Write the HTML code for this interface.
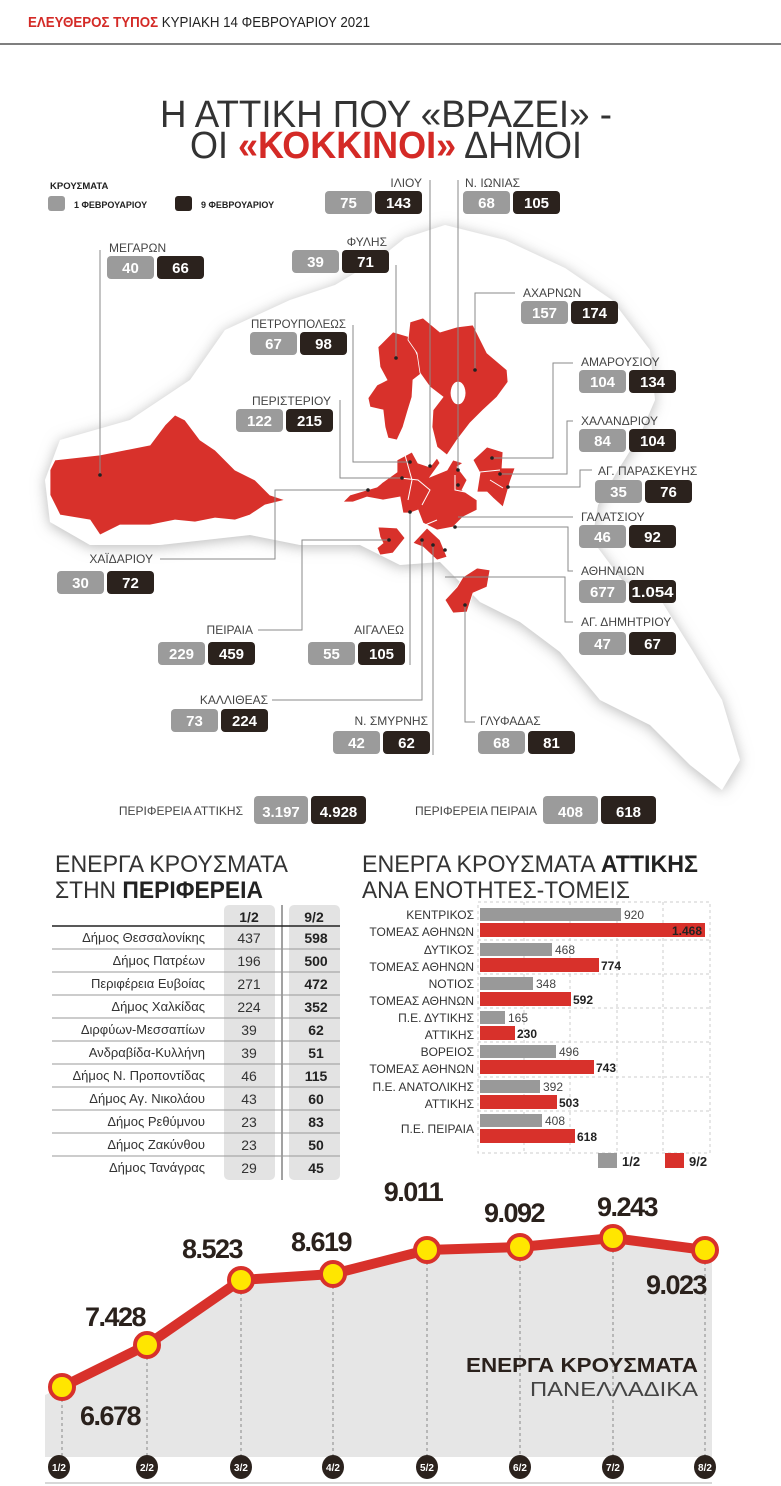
<!DOCTYPE html>
<html><head><meta charset="utf-8"><style>
html,body{margin:0;padding:0;background:#fff;}
svg{display:block;}
text{font-family:"Liberation Sans","DejaVu Sans",sans-serif;}
.lb{font-size:12px;fill:#444;}
.bx{font-size:15px;font-weight:bold;fill:#fff;text-anchor:middle;}
.ttl{font-weight:normal;fill:#333;}
.ln{stroke:#8a8a8a;stroke-width:1;fill:none;}
.tn{font-size:13px;fill:#333;text-anchor:end;}
.tv{font-size:14px;fill:#333;text-anchor:middle;}
.tb{font-size:14px;fill:#222;text-anchor:middle;font-weight:bold;}
.bl{font-size:12px;fill:#333;text-anchor:end;}
.bv{font-size:12px;fill:#444;}
.bvb{font-size:12px;fill:#222;font-weight:bold;}
.big{font-size:27px;font-weight:bold;fill:#2a211c;text-anchor:middle;letter-spacing:-1.5px;}
.dl{font-size:10px;font-weight:bold;fill:#fff;text-anchor:middle;}
</style></head><body>
<svg width="781" height="1486" viewBox="0 0 781 1486" xmlns="http://www.w3.org/2000/svg">
<defs>
<filter id="sh" x="-10%" y="-10%" width="120%" height="120%"><feDropShadow dx="0" dy="2" stdDeviation="7" flood-color="#9a9a9a" flood-opacity="0.7"/></filter>
</defs>
<!-- header -->
<text x="28" y="27" font-size="15" textLength="342" lengthAdjust="spacingAndGlyphs" font-weight="bold" fill="#d42a26">ΕΛΕΥΘΕΡΟΣ ΤΥΠΟΣ <tspan fill="#222" font-weight="normal">ΚΥΡΙΑΚΗ 14 ΦΕΒΡΟΥΑΡΙΟΥ 2021</tspan></text>
<line x1="0" y1="44" x2="781" y2="44" stroke="#555" stroke-width="1.5"/>
<!-- title -->
<text class="ttl" x="160" y="127" font-size="38" textLength="452" lengthAdjust="spacingAndGlyphs">Η ΑΤΤΙΚΗ ΠΟΥ «ΒΡΑΖΕΙ» -</text>
<text class="ttl" x="190" y="158" font-size="38" textLength="392" lengthAdjust="spacingAndGlyphs">ΟΙ <tspan fill="#d42a26" font-weight="bold">«ΚΟΚΚΙΝΟΙ»</tspan> ΔΗΜΟΙ</text>
<!-- legend -->
<text x="50" y="189" font-size="9.5" font-weight="bold" fill="#222">ΚΡΟΥΣΜΑΤΑ</text>
<rect x="48" y="196" width="17" height="15" rx="3" fill="#9b9b9b"/>
<text x="74" y="208" font-size="9" font-weight="bold" fill="#222">1 ΦΕΒΡΟΥΑΡΙΟΥ</text>
<rect x="175" y="196" width="17" height="15" rx="3" fill="#2b221d"/>
<text x="201" y="208" font-size="9" font-weight="bold" fill="#222">9 ΦΕΒΡΟΥΑΡΙΟΥ</text>
<!-- land -->
<path filter="url(#sh)" fill="#fff" d="M45,480 L60,440 L130,420 L190,380 L225,330 L290,300 L335,285 L380,258 L405,238 L445,225 L505,240 L565,268 L612,300 L650,350 L655,400 L640,435 L618,470 L598,505 L592,540 L622,580 L662,602 L692,650 L722,700 L740,760 L722,790 L690,765 L650,725 L600,700 L560,652 L520,622 L480,602 L440,562 L400,565 L360,545 L300,545 L250,535 L160,545 L90,545 L50,522 Z"/>
<!-- red shapes -->
<g fill="#d8312b" stroke="#fff" stroke-width="0.8">
<path d="M55,460 L100,455 L150,445 L165,425 L175,415 L185,420 L200,440 L215,450 L235,470 L255,480 L270,495 L285,500 L265,505 L250,515 L235,520 L215,518 L195,522 L175,520 L150,525 L120,525 L100,535 L90,520 L60,515 L50,495 L50,470 Z"/>
<path d="M393,332 L410,337 L418,357 L422,373 L413,380 L412,397 L408,410 L403,427 L397,440 L388,438 L385,427 L383,410 L370,407 L368,398 L377,385 L387,380 L380,367 L378,347 Z"/>
<path fill-rule="evenodd" d="M410,322 L423,318 L440,332 L457,327 L473,325 L487,353 L507,370 L508,382 L497,397 L483,410 L470,423 L457,440 L447,455 L437,447 L432,427 L433,410 L443,397 L430,387 L420,373 L417,353 L408,340 Z M458,382 A7,11 0 1,0 458.1,382 Z"/>
<path d="M397,460 L412,452 L418,463 L430,467 L437,458 L440,463 L430,477 L447,470 L453,460 L463,463 L457,467 L467,480 L462,490 L477,500 L477,510 L463,517 L453,527 L437,530 L423,523 L418,510 L410,513 L403,513 L400,497 L383,500 L367,497 L353,502 L343,502 L350,495 L377,487 L383,482 L397,472 Z"/>
<path d="M473,460 L487,447 L503,452 L502,468 L515,468 L510,482 L503,507 L493,498 L487,492 L477,492 L480,473 Z"/>
<path d="M378,527 L397,528 L405,538 L393,553 L380,555 L377,548 L383,543 L380,537 Z"/>
<path d="M413,543 L427,528 L440,540 L447,557 L437,560 L423,547 Z"/>
<path d="M463,577 L477,568 L490,570 L487,587 L473,593 L467,612 L453,613 L445,600 L457,587 Z"/>
</g>
<g stroke="#fff" stroke-width="1" fill="none">
<path d="M405,455 L412,480 L408,500"/><path d="M400,478 L418,480 L430,490 L422,505"/><path d="M455,475 L455,490 L465,492"/><path d="M480,472 L500,470 M490,480 L503,488"/><path d="M425,525 L437,520"/>
</g>
<!-- leader lines -->
<g class="ln">
<path d="M430,180 V466"/><path d="M458,180 V470"/><path d="M100,250 V475"/>
<path d="M396,265 V358"/><path d="M515,293 H475 V370"/><path d="M353,325 V462 H410"/>
<path d="M573,363 H553 V458 H492"/><path d="M340,400 V478 H402"/><path d="M573,421 H567 V474 H500"/>
<path d="M592,470 H580 V487 H508"/><path d="M573,517 H458"/><path d="M160,559 H275 V490 H368"/>
<path d="M573,571 H568 V527 H455"/><path d="M573,622 H565 V577 H445"/>
<path d="M258,630 H302 V540 H389"/><path d="M410,665 V512"/><path d="M272,700 H422 V540"/>
<path d="M433,755 V545"/><path d="M475,722 H465 V605"/>
</g>
<g fill="#222">
<circle cx="100" cy="475" r="1.8"/><circle cx="396" cy="358" r="1.8"/><circle cx="475" cy="370" r="1.8"/><circle cx="410" cy="462" r="1.8"/><circle cx="430" cy="466" r="1.8"/><circle cx="458" cy="470" r="1.8"/><circle cx="492" cy="458" r="1.8"/><circle cx="402" cy="478" r="1.8"/><circle cx="500" cy="474" r="1.8"/><circle cx="508" cy="487" r="1.8"/><circle cx="458" cy="485" r="1.8"/><circle cx="368" cy="490" r="1.8"/><circle cx="410" cy="512" r="1.8"/><circle cx="455" cy="527" r="1.8"/><circle cx="389" cy="540" r="1.8"/><circle cx="422" cy="540" r="1.8"/><circle cx="433" cy="545" r="1.8"/><circle cx="445" cy="550" r="1.8"/><circle cx="465" cy="605" r="1.8"/>
</g>
<!-- box pairs -->
<g>
<text class="lb" x="422" y="187" text-anchor="end">ΙΛΙΟΥ</text>
<rect x="325" y="191" width="47" height="23" rx="4" fill="#9b9b9b"/><text class="bx" x="348.5" y="208">75</text>
<rect x="375" y="191" width="47" height="23" rx="4" fill="#2b221d"/><text class="bx" x="398.5" y="208">143</text>
<text class="lb" x="465" y="187">Ν. ΙΩΝΙΑΣ</text>
<rect x="463" y="191" width="47" height="23" rx="4" fill="#9b9b9b"/><text class="bx" x="486.5" y="208">68</text>
<rect x="513" y="191" width="47" height="23" rx="4" fill="#2b221d"/><text class="bx" x="536.5" y="208">105</text>
<text class="lb" x="109" y="252">ΜΕΓΑΡΩΝ</text>
<rect x="107" y="256" width="47" height="23" rx="4" fill="#9b9b9b"/><text class="bx" x="130.5" y="273">40</text>
<rect x="157" y="256" width="47" height="23" rx="4" fill="#2b221d"/><text class="bx" x="180.5" y="273">66</text>
<text class="lb" x="387" y="246" text-anchor="end">ΦΥΛΗΣ</text>
<rect x="292" y="250" width="47" height="23" rx="4" fill="#9b9b9b"/><text class="bx" x="315.5" y="267">39</text>
<rect x="342" y="250" width="47" height="23" rx="4" fill="#2b221d"/><text class="bx" x="365.5" y="267">71</text>
<text class="lb" x="523" y="297">ΑΧΑΡΝΩΝ</text>
<rect x="521" y="301" width="47" height="23" rx="4" fill="#9b9b9b"/><text class="bx" x="544.5" y="318">157</text>
<rect x="571" y="301" width="47" height="23" rx="4" fill="#2b221d"/><text class="bx" x="594.5" y="318">174</text>
<text class="lb" x="346" y="328" text-anchor="end" textLength="95" lengthAdjust="spacingAndGlyphs">ΠΕΤΡΟΥΠΟΛΕΩΣ</text>
<rect x="250" y="332" width="47" height="23" rx="4" fill="#9b9b9b"/><text class="bx" x="273.5" y="349">67</text>
<rect x="300" y="332" width="47" height="23" rx="4" fill="#2b221d"/><text class="bx" x="323.5" y="349">98</text>
<text class="lb" x="581" y="366">ΑΜΑΡΟΥΣΙΟΥ</text>
<rect x="579" y="370" width="47" height="23" rx="4" fill="#9b9b9b"/><text class="bx" x="602.5" y="387">104</text>
<rect x="629" y="370" width="47" height="23" rx="4" fill="#2b221d"/><text class="bx" x="652.5" y="387">134</text>
<text class="lb" x="331" y="405" text-anchor="end">ΠΕΡΙΣΤΕΡΙΟΥ</text>
<rect x="236" y="409" width="47" height="23" rx="4" fill="#9b9b9b"/><text class="bx" x="259.5" y="426">122</text>
<rect x="286" y="409" width="47" height="23" rx="4" fill="#2b221d"/><text class="bx" x="309.5" y="426">215</text>
<text class="lb" x="581" y="425">ΧΑΛΑΝΔΡΙΟΥ</text>
<rect x="579" y="429" width="47" height="23" rx="4" fill="#9b9b9b"/><text class="bx" x="602.5" y="446">84</text>
<rect x="629" y="429" width="47" height="23" rx="4" fill="#2b221d"/><text class="bx" x="652.5" y="446">104</text>
<text class="lb" x="598" y="475">ΑΓ. ΠΑΡΑΣΚΕΥΗΣ</text>
<rect x="595" y="480" width="47" height="23" rx="4" fill="#9b9b9b"/><text class="bx" x="618.5" y="497">35</text>
<rect x="645" y="480" width="47" height="23" rx="4" fill="#2b221d"/><text class="bx" x="668.5" y="497">76</text>
<text class="lb" x="581" y="521">ΓΑΛΑΤΣΙΟΥ</text>
<rect x="579" y="525" width="47" height="23" rx="4" fill="#9b9b9b"/><text class="bx" x="602.5" y="542">46</text>
<rect x="629" y="525" width="47" height="23" rx="4" fill="#2b221d"/><text class="bx" x="652.5" y="542">92</text>
<text class="lb" x="153" y="563" text-anchor="end">ΧΑΪΔΑΡΙΟΥ</text>
<rect x="57" y="571" width="47" height="23" rx="4" fill="#9b9b9b"/><text class="bx" x="80.5" y="588">30</text>
<rect x="107" y="571" width="47" height="23" rx="4" fill="#2b221d"/><text class="bx" x="130.5" y="588">72</text>
<text class="lb" x="581" y="575">ΑΘΗΝΑΙΩΝ</text>
<rect x="579" y="580" width="47" height="23" rx="4" fill="#9b9b9b"/><text class="bx" x="602.5" y="597">677</text>
<rect x="629" y="580" width="47" height="23" rx="4" fill="#2b221d"/><text class="bx" x="652.5" y="597" textLength="42" lengthAdjust="spacingAndGlyphs">1.054</text>
<text class="lb" x="581" y="626">ΑΓ. ΔΗΜΗΤΡΙΟΥ</text>
<rect x="579" y="632" width="47" height="23" rx="4" fill="#9b9b9b"/><text class="bx" x="602.5" y="649">47</text>
<rect x="629" y="632" width="47" height="23" rx="4" fill="#2b221d"/><text class="bx" x="652.5" y="649">67</text>
<text class="lb" x="253" y="634" text-anchor="end">ΠΕΙΡΑΙΑ</text>
<rect x="158" y="642" width="47" height="23" rx="4" fill="#9b9b9b"/><text class="bx" x="181.5" y="659">229</text>
<rect x="208" y="642" width="47" height="23" rx="4" fill="#2b221d"/><text class="bx" x="231.5" y="659">459</text>
<text class="lb" x="404" y="634" text-anchor="end">ΑΙΓΑΛΕΩ</text>
<rect x="308" y="642" width="47" height="23" rx="4" fill="#9b9b9b"/><text class="bx" x="331.5" y="659">55</text>
<rect x="358" y="642" width="47" height="23" rx="4" fill="#2b221d"/><text class="bx" x="381.5" y="659">105</text>
<text class="lb" x="268" y="704" text-anchor="end">ΚΑΛΛΙΘΕΑΣ</text>
<rect x="171" y="709" width="47" height="23" rx="4" fill="#9b9b9b"/><text class="bx" x="194.5" y="726">73</text>
<rect x="221" y="709" width="47" height="23" rx="4" fill="#2b221d"/><text class="bx" x="244.5" y="726">224</text>
<text class="lb" x="428" y="725" text-anchor="end">Ν. ΣΜΥΡΝΗΣ</text>
<rect x="333" y="731" width="47" height="23" rx="4" fill="#9b9b9b"/><text class="bx" x="356.5" y="748">42</text>
<rect x="383" y="731" width="47" height="23" rx="4" fill="#2b221d"/><text class="bx" x="406.5" y="748">62</text>
<text class="lb" x="480" y="725">ΓΛΥΦΑΔΑΣ</text>
<rect x="478" y="731" width="47" height="23" rx="4" fill="#9b9b9b"/><text class="bx" x="501.5" y="748">68</text>
<rect x="528" y="731" width="47" height="23" rx="4" fill="#2b221d"/><text class="bx" x="551.5" y="748">81</text>
<text class="lb" x="243" y="815" text-anchor="end" fill="#222">ΠΕΡΙΦΕΡΕΙΑ ΑΤΤΙΚΗΣ</text>
<rect x="254" y="796" width="54" height="28" rx="4" fill="#9b9b9b"/><text class="bx" x="281" y="817" font-size="17">3.197</text>
<rect x="311" y="796" width="55" height="28" rx="4" fill="#2b221d"/><text class="bx" x="338.5" y="817" font-size="17">4.928</text>
<text class="lb" x="537" y="815" text-anchor="end" fill="#222">ΠΕΡΙΦΕΡΕΙΑ ΠΕΙΡΑΙΑ</text>
<rect x="543" y="796" width="55" height="28" rx="4" fill="#9b9b9b"/><text class="bx" x="570.5" y="817" font-size="17">408</text>
<rect x="601" y="796" width="55" height="28" rx="4" fill="#2b221d"/><text class="bx" x="628.5" y="817" font-size="17">618</text>
</g>

<!-- left table -->
<text class="ttl" x="55" y="872" font-size="24" textLength="233" lengthAdjust="spacingAndGlyphs">ΕΝΕΡΓΑ ΚΡΟΥΣΜΑΤΑ</text>
<text class="ttl" x="55" y="898" font-size="24" textLength="208" lengthAdjust="spacingAndGlyphs">ΣΤΗΝ <tspan font-weight="bold" fill="#222">ΠΕΡΙΦΕΡΕΙΑ</tspan></text>
<rect x="224" y="905" width="51" height="275" rx="5" fill="#e3e3e3"/>
<rect x="289" y="905" width="51" height="275" rx="5" fill="#e3e3e3"/>
<line x1="282" y1="905" x2="282" y2="1180" stroke="#444" stroke-width="1"/>
<text class="tb" x="249" y="922">1/2</text><text class="tb" x="314" y="922">9/2</text>
<line x1="52" y1="926" x2="340" y2="926" stroke="#222" stroke-width="1.5"/>
<g>
<text class="tn" x="205" y="942">Δήμος Θεσσαλονίκης</text><text class="tv" x="249" y="943">437</text><text class="tb" x="316" y="943">598</text>
<text class="tn" x="205" y="965">Δήμος Πατρέων</text><text class="tv" x="249" y="966">196</text><text class="tb" x="316" y="966">500</text>
<text class="tn" x="205" y="988">Περιφέρεια Ευβοίας</text><text class="tv" x="249" y="989">271</text><text class="tb" x="316" y="989">472</text>
<text class="tn" x="205" y="1011">Δήμος Χαλκίδας</text><text class="tv" x="249" y="1012">224</text><text class="tb" x="316" y="1012">352</text>
<text class="tn" x="205" y="1034">Διρφύων-Μεσσαπίων</text><text class="tv" x="249" y="1035">39</text><text class="tb" x="316" y="1035">62</text>
<text class="tn" x="205" y="1057">Ανδραβίδα-Κυλλήνη</text><text class="tv" x="249" y="1058">39</text><text class="tb" x="316" y="1058">51</text>
<text class="tn" x="205" y="1080">Δήμος Ν. Προποντίδας</text><text class="tv" x="249" y="1081">46</text><text class="tb" x="316" y="1081">115</text>
<text class="tn" x="205" y="1103">Δήμος Αγ. Νικολάου</text><text class="tv" x="249" y="1104">43</text><text class="tb" x="316" y="1104">60</text>
<text class="tn" x="205" y="1126">Δήμος Ρεθύμνου</text><text class="tv" x="249" y="1127">23</text><text class="tb" x="316" y="1127">83</text>
<text class="tn" x="205" y="1149">Δήμος Ζακύνθου</text><text class="tv" x="249" y="1150">23</text><text class="tb" x="316" y="1150">50</text>
<text class="tn" x="205" y="1172">Δήμος Τανάγρας</text><text class="tv" x="249" y="1173">29</text><text class="tb" x="316" y="1173">45</text>
</g>
<g stroke="#999" stroke-width="1">
<line x1="52" y1="949" x2="340" y2="949"/><line x1="52" y1="972" x2="340" y2="972"/><line x1="52" y1="995" x2="340" y2="995"/><line x1="52" y1="1018" x2="340" y2="1018"/><line x1="52" y1="1041" x2="340" y2="1041"/><line x1="52" y1="1064" x2="340" y2="1064"/><line x1="52" y1="1087" x2="340" y2="1087"/><line x1="52" y1="1110" x2="340" y2="1110"/><line x1="52" y1="1133" x2="340" y2="1133"/><line x1="52" y1="1156" x2="340" y2="1156"/>
</g>

<!-- bar chart -->
<text class="ttl" x="362" y="872" font-size="24" textLength="336" lengthAdjust="spacingAndGlyphs">ΕΝΕΡΓΑ ΚΡΟΥΣΜΑΤΑ <tspan font-weight="bold" fill="#222">ΑΤΤΙΚΗΣ</tspan></text>
<text class="ttl" x="362" y="898" font-size="24" textLength="268" lengthAdjust="spacingAndGlyphs">ΑΝΑ ΕΝΟΤΗΤΕΣ-ΤΟΜΕΙΣ</text>
<g stroke="#ccc" stroke-width="1" stroke-dasharray="3,3" fill="none">
<rect x="478" y="902" width="232" height="251"/>
<line x1="524" y1="902" x2="524" y2="1153"/><line x1="570" y1="902" x2="570" y2="1153"/><line x1="617" y1="902" x2="617" y2="1153"/><line x1="663" y1="902" x2="663" y2="1153"/>
<line x1="478" y1="940" x2="710" y2="940"/><line x1="478" y1="974" x2="710" y2="974"/><line x1="478" y1="1008" x2="710" y2="1008"/><line x1="478" y1="1042" x2="710" y2="1042"/><line x1="478" y1="1077" x2="710" y2="1077"/><line x1="478" y1="1111" x2="710" y2="1111"/>
</g>
<g>
<rect x="480" y="908" width="141" height="13" fill="#999"/><text class="bv" x="624" y="919">920</text>
<rect x="480" y="923" width="225" height="14" fill="#d8312b"/><text class="bvb" x="702" y="935" text-anchor="end" fill="#fff">1.468</text>
<text class="bl" x="474" y="919">ΚΕΝΤΡΙΚΟΣ</text><text class="bl" x="474" y="936">ΤΟΜΕΑΣ ΑΘΗΝΩΝ</text>
<rect x="480" y="943" width="72" height="13" fill="#999"/><text class="bv" x="555" y="954">468</text>
<rect x="480" y="958" width="119" height="14" fill="#d8312b"/><text class="bvb" x="601" y="970">774</text>
<text class="bl" x="474" y="954">ΔΥΤΙΚΟΣ</text><text class="bl" x="474" y="971">ΤΟΜΕΑΣ ΑΘΗΝΩΝ</text>
<rect x="480" y="977" width="53" height="13" fill="#999"/><text class="bv" x="536" y="988">348</text>
<rect x="480" y="992" width="91" height="14" fill="#d8312b"/><text class="bvb" x="573" y="1004">592</text>
<text class="bl" x="474" y="988">ΝΟΤΙΟΣ</text><text class="bl" x="474" y="1005">ΤΟΜΕΑΣ ΑΘΗΝΩΝ</text>
<rect x="480" y="1011" width="25" height="13" fill="#999"/><text class="bv" x="508" y="1022">165</text>
<rect x="480" y="1026" width="35" height="14" fill="#d8312b"/><text class="bvb" x="517" y="1038">230</text>
<text class="bl" x="474" y="1022">Π.Ε. ΔΥΤΙΚΗΣ</text><text class="bl" x="474" y="1039">ΑΤΤΙΚΗΣ</text>
<rect x="480" y="1045" width="76" height="13" fill="#999"/><text class="bv" x="559" y="1056">496</text>
<rect x="480" y="1060" width="114" height="14" fill="#d8312b"/><text class="bvb" x="596" y="1072">743</text>
<text class="bl" x="474" y="1056">ΒΟΡΕΙΟΣ</text><text class="bl" x="474" y="1073">ΤΟΜΕΑΣ ΑΘΗΝΩΝ</text>
<rect x="480" y="1080" width="60" height="13" fill="#999"/><text class="bv" x="543" y="1091">392</text>
<rect x="480" y="1095" width="77" height="14" fill="#d8312b"/><text class="bvb" x="559" y="1107">503</text>
<text class="bl" x="474" y="1091">Π.Ε. ΑΝΑΤΟΛΙΚΗΣ</text><text class="bl" x="474" y="1108">ΑΤΤΙΚΗΣ</text>
<rect x="480" y="1114" width="62" height="13" fill="#999"/><text class="bv" x="545" y="1125">408</text>
<rect x="480" y="1129" width="95" height="14" fill="#d8312b"/><text class="bvb" x="577" y="1141">618</text>
<text class="bl" x="474" y="1133">Π.Ε. ΠΕΙΡΑΙΑ</text>
</g>
<rect x="598" y="1153" width="19" height="15" fill="#999"/><text x="622" y="1166" font-size="13" font-weight="bold" fill="#222">1/2</text>
<rect x="665" y="1153" width="19" height="15" fill="#d8312b"/><text x="689" y="1166" font-size="13" font-weight="bold" fill="#222">9/2</text>

<!-- line chart -->
<path d="M45,1395 L62,1387 L147,1345 L241,1280 L333,1274 L427,1250 L520,1247 L613,1238 L705,1250 L712,1250 L712,1457 L45,1457 Z" fill="#e6e6e6"/>
<g stroke="#888" stroke-width="1" stroke-dasharray="3,3">
<line x1="62" y1="1387" x2="62" y2="1457"/><line x1="147" y1="1345" x2="147" y2="1457"/><line x1="241" y1="1280" x2="241" y2="1457"/><line x1="333" y1="1274" x2="333" y2="1457"/><line x1="427" y1="1250" x2="427" y2="1457"/><line x1="520" y1="1247" x2="520" y2="1457"/><line x1="613" y1="1238" x2="613" y2="1457"/><line x1="705" y1="1250" x2="705" y2="1457"/>
</g>
<polyline points="62,1387 147,1345 241,1280 333,1274 427,1250 520,1247 613,1238 705,1250" fill="none" stroke="#d8312b" stroke-width="10" stroke-linejoin="round"/>
<g fill="#ffe600" stroke="#d8312b" stroke-width="4">
<circle cx="62" cy="1387" r="12"/><circle cx="147" cy="1345" r="12"/><circle cx="241" cy="1280" r="12"/><circle cx="333" cy="1274" r="12"/><circle cx="427" cy="1250" r="12"/><circle cx="520" cy="1247" r="12"/><circle cx="613" cy="1238" r="12"/><circle cx="705" cy="1250" r="12"/>
</g>
<text class="big" x="110" y="1425">6.678</text>
<text class="big" x="115" y="1326">7.428</text>
<text class="big" x="212" y="1258">8.523</text>
<text class="big" x="321" y="1251">8.619</text>
<text class="big" x="413" y="1201">9.011</text>
<text class="big" x="514" y="1222">9.092</text>
<text class="big" x="627" y="1216">9.243</text>
<text class="big" x="676" y="1294">9.023</text>
<text x="698" y="1372" text-anchor="end" font-size="20" font-weight="bold" fill="#2a211c" textLength="232" lengthAdjust="spacingAndGlyphs">ΕΝΕΡΓΑ ΚΡΟΥΣΜΑΤΑ</text>
<text x="698" y="1396" text-anchor="end" font-size="20" fill="#444" textLength="168" lengthAdjust="spacingAndGlyphs">ΠΑΝΕΛΛΑΔΙΚΑ</text>
<g fill="#2b221d">
<ellipse cx="59" cy="1467" rx="11" ry="12"/><ellipse cx="147" cy="1467" rx="11" ry="12"/><ellipse cx="241" cy="1467" rx="11" ry="12"/><ellipse cx="333" cy="1467" rx="11" ry="12"/><ellipse cx="427" cy="1467" rx="11" ry="12"/><ellipse cx="520" cy="1467" rx="11" ry="12"/><ellipse cx="613" cy="1467" rx="11" ry="12"/><ellipse cx="705" cy="1467" rx="11" ry="12"/>
</g>
<text class="dl" x="59" y="1471">1/2</text><text class="dl" x="147" y="1471">2/2</text><text class="dl" x="241" y="1471">3/2</text><text class="dl" x="333" y="1471">4/2</text><text class="dl" x="427" y="1471">5/2</text><text class="dl" x="520" y="1471">6/2</text><text class="dl" x="613" y="1471">7/2</text><text class="dl" x="705" y="1471">8/2</text>
<line x1="45" y1="1483" x2="712" y2="1483" stroke="#ccc" stroke-width="1.5"/>
</svg>
</body></html>
